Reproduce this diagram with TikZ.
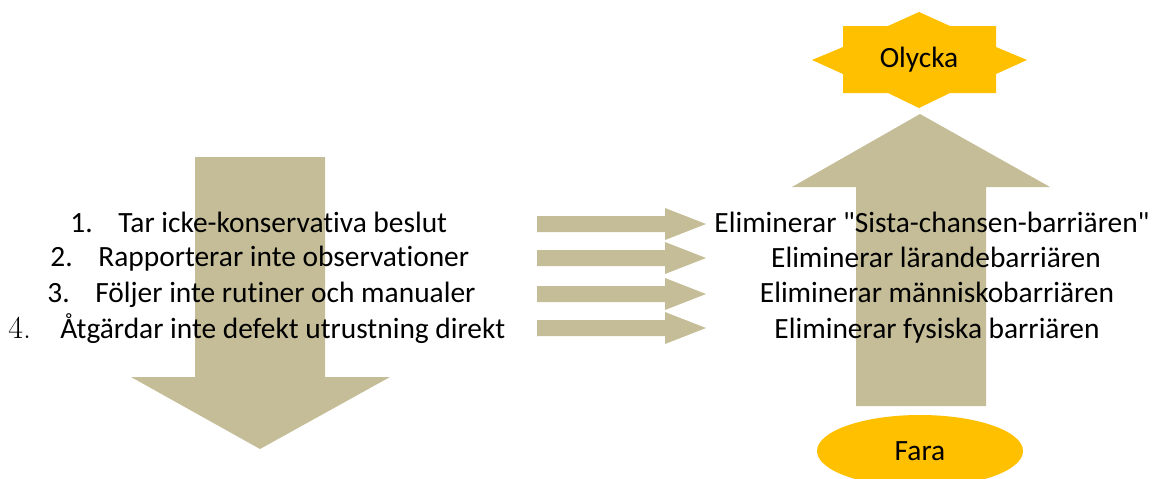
\documentclass[tikz,border=0pt]{standalone}
\usepackage{fontspec}
\newfontfamily\calfont[Ligatures=NoCommon]{Carlito}
\definecolor{tan}{HTML}{C4BD97}
\definecolor{amber}{HTML}{FFC000}
\usetikzlibrary{shapes.geometric}

\begin{document}
\begin{tikzpicture}[x=0.5pt,y=-0.5pt,
  txt/.style={font=\calfont\fontsize{14.7}{17.5}\selectfont, inner sep=0pt, text=black},
  leftitem/.style={txt, anchor=base west},
  rightitem/.style={txt, anchor=base},
  pics/rarrow/.style={code={
    \fill[tan] (0,-8) -- (128,-8) -- (128,-16) -- (169,0) -- (128,16) -- (128,8) -- (0,8) -- cycle;}}]
\useasboundingbox (0,0) rectangle (1161,478);

% large downward arrow behind the list of actions
\fill[tan] (195,157) -- (325,157) -- (325,377) -- (390,377) -- (260,449)
  -- (131,377) -- (195,377) -- cycle;

% list of actions
\node[leftitem] (a1) at (70,232) {\makebox[24pt][l]{1.}Tar icke-konservativa beslut};
\node[leftitem] (a2) at (50,266) {\makebox[24pt][l]{2.}Rapporterar inte observationer};
\node[leftitem] (a3) at (47,302) {\makebox[24pt][l]{3.}Följer inte rutiner och manualer};
\node[leftitem] (a4) at (8,338) {\makebox[26pt][l]{\rmfamily\fontsize{16}{17.5}\selectfont 4.}Åtgärdar inte defekt utrustning direkt};

% four small arrows pointing to the eliminated barriers
\pic at (537,224) {rarrow};
\pic at (537,258) {rarrow};
\pic at (537,294) {rarrow};
\pic at (537,328) {rarrow};

% large upward arrow from hazard to accident
\fill[tan] (920,114) -- (1050,187) -- (986,187) -- (986,406) -- (856,406)
  -- (856,187) -- (792,187) -- cycle;

% eliminated barriers
\node[rightitem] (b1) at (932,232) {Eliminerar "Sista-chansen-barriären"};
\node[rightitem] (b2) at (936,267) {Eliminerar lärandebarriären};
\node[rightitem] (b3) at (937,302) {Eliminerar människobarriären};
\node[rightitem] (b4) at (937,338) {Eliminerar fysiska barriären};

% accident: eight-point star
\fill[amber] (919,12) -- (950,26) -- (996,26) -- (996,47) -- (1027,60) -- (996,74)
  -- (996,93) -- (950,93) -- (919,108) -- (888,93) -- (843,93) -- (843,74)
  -- (812,60) -- (843,47) -- (843,26) -- (888,26) -- cycle;
\node[txt, anchor=base] (olycka) at (919,67) {Olycka};

% hazard: ellipse, cut by the lower edge
\node[ellipse, fill=amber, inner sep=0pt, minimum width=103pt, minimum height=36pt,
  txt] (fara) at (920,451) {Fara};
\end{tikzpicture}
\end{document}
